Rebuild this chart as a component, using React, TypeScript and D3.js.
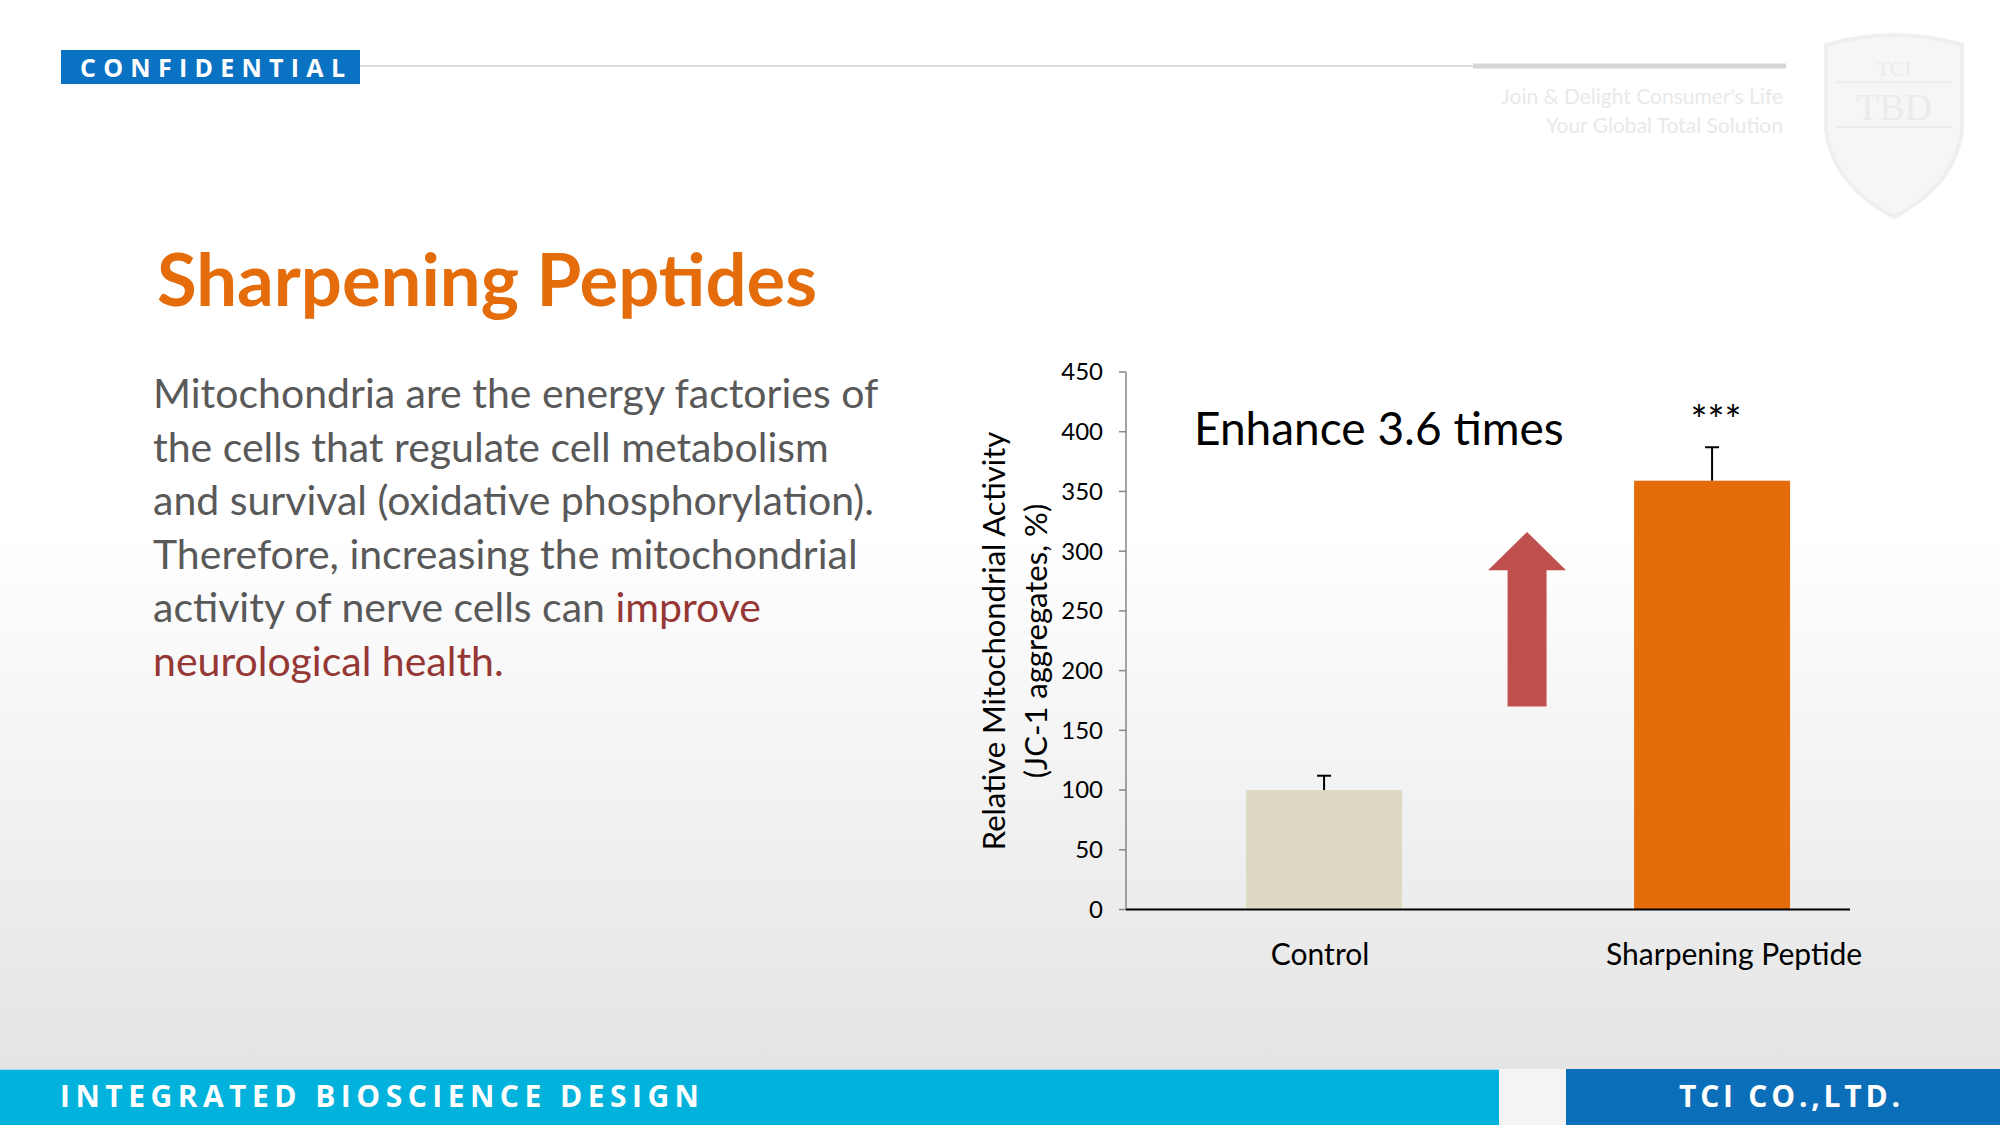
import React from 'react';
import * as d3 from 'd3';

// ---- Data ----
const categories = ['Control', 'Sharpening Peptide'];
const values = [100, 359];
const errors = [12, 28];
const barColors = ['#ddd9c3', '#e46c0a'];
const significance = ['', '***'];
const yTicks = [0, 50, 100, 150, 200, 250, 300, 350, 400, 450];
const yLabelLines = ['Relative Mitochondrial Activity', '(JC-1 aggregates, %)'];
const annotation = 'Enhance 3.6 times';
const arrowRange = [170, 316];
const arrowHeadBase = 284;

const title = 'Sharpening Peptides';
const bodyLines: { text: string; red?: boolean }[][] = [
  [{ text: 'Mitochondria are the energy factories of' }],
  [{ text: 'the cells that regulate cell metabolism' }],
  [{ text: 'and survival (oxidative phosphorylation).' }],
  [{ text: 'Therefore, increasing the mitochondrial' }],
  [{ text: 'activity of nerve cells can ' }, { text: 'improve', red: true }],
  [{ text: 'neurological health.', red: true }],
];
const taglines = ["Join & Delight Consumer's Life", 'Your Global Total Solution'];

const W = 2000;
const H = 1125;

export default function App() {
  const plotLeft = 1126;
  const plotRight = 1850;
  const plotTop = 372;
  const plotBottom = 909.5;

  const y = d3.scaleLinear().domain([0, 450]).range([plotBottom, plotTop]);
  const x = d3
    .scaleBand<string>()
    .domain(categories)
    .range([plotLeft, plotRight])
    .paddingInner(0.598)
    .paddingOuter(0.232)
    .align(0.667);
  const bw = x.bandwidth();
  const centers = categories.map((c) => (x(c) as number) + bw / 2);

  const arrowCx = (centers[0] + centers[1]) / 2 + 9;
  const headHalf = 39;
  const shaftHalf = 19.5;
  const arrowPath = d3.path();
  arrowPath.moveTo(arrowCx, y(arrowRange[1]));
  arrowPath.lineTo(arrowCx + headHalf, y(arrowHeadBase));
  arrowPath.lineTo(arrowCx + shaftHalf, y(arrowHeadBase));
  arrowPath.lineTo(arrowCx + shaftHalf, y(arrowRange[0]));
  arrowPath.lineTo(arrowCx - shaftHalf, y(arrowRange[0]));
  arrowPath.lineTo(arrowCx - shaftHalf, y(arrowHeadBase));
  arrowPath.lineTo(arrowCx - headHalf, y(arrowHeadBase));
  arrowPath.closePath();

  const bodyFont = 'Lato, "Open Sans", sans-serif';

  return (
    <svg
      width={W}
      height={H}
      viewBox={`0 0 ${W} ${H}`}
      style={{ position: 'absolute', left: 0, top: 0 }}
    >
      <defs>
        <linearGradient id="bg" x1="0" y1="0" x2="0" y2="1069" gradientUnits="userSpaceOnUse">
          <stop offset="0" stopColor="#ffffff" />
          <stop offset="0.5" stopColor="#ffffff" />
          <stop offset="1" stopColor="#e4e4e4" />
        </linearGradient>
      </defs>
      <rect x={0} y={0} width={W} height={H} fill="url(#bg)" />

      {/* header */}
      <line x1={360} x2={1786} y1={66} y2={66} stroke="#dcdcdc" strokeWidth={2} />
      <line x1={1473} x2={1786} y1={66} y2={66} stroke="#d6d6d6" strokeWidth={5} />
      <rect x={61} y={50} width={299} height={34} fill="#0a72c2" />
      <text
        x={80}
        y={76.5}
        fill="#ffffff"
        fontFamily='"Open Sans", sans-serif'
        fontWeight={700}
        fontSize={25}
        textLength={265}
        lengthAdjust="spacing"
      >
        CONFIDENTIAL
      </text>
      {taglines.map((t, i) => (
        <text
          key={t}
          x={1783}
          y={104 + i * 29}
          textAnchor="end"
          fill="#e9e9e9"
          fontFamily={bodyFont}
          fontSize={21}
        >
          {t}
        </text>
      ))}
      {/* faint shield logo */}
      <g opacity={0.9}>
        <path
          d="M1826,45 Q1895,25 1962,45 L1962,130 Q1955,185 1894,217 Q1833,185 1826,130 Z"
          fill="#f6f6f6"
          stroke="#eeeeee"
          strokeWidth={4}
        />
        <line x1={1836} x2={1952} y1={82} y2={82} stroke="#ececec" strokeWidth={2} />
        <line x1={1836} x2={1952} y1={127} y2={127} stroke="#ececec" strokeWidth={2} />
        <text x={1894} y={76} textAnchor="middle" fill="#e9e9e9" fontFamily="serif" fontSize={22}>
          TCI
        </text>
        <text x={1894} y={120} textAnchor="middle" fill="#e9e9e9" fontFamily="serif" fontSize={38}>
          TBD
        </text>
      </g>

      {/* title & body */}
      <text x={157} y={306} fill="#e46c0a" fontFamily={bodyFont} fontWeight={700} fontSize={73} textLength={660} lengthAdjust="spacingAndGlyphs">
        {title}
      </text>
      {bodyLines.map((segs, i) => (
        <text key={i} x={153} y={408 + i * 53.6} fontFamily={bodyFont} fontSize={41} fill="#595959">
          {segs.map((s, j) => (
            <tspan key={j} fill={s.red ? '#953735' : '#595959'}>
              {s.text}
            </tspan>
          ))}
        </text>
      ))}

      {/* chart */}
      <g fontFamily={bodyFont}>
        {categories.map((c, i) => (
          <rect key={c} x={x(c)} y={y(values[i])} width={bw} height={y(0) - y(values[i])} fill={barColors[i]} />
        ))}
        {categories.map((c, i) => (
          <g key={c + 'err'} stroke="#000" strokeWidth={2}>
            <line x1={centers[i]} x2={centers[i]} y1={y(values[i])} y2={y(values[i] + errors[i])} />
            <line x1={centers[i] - 7} x2={centers[i] + 7} y1={y(values[i] + errors[i])} y2={y(values[i] + errors[i])} />
          </g>
        ))}
        {categories.map((c, i) =>
          significance[i] ? (
            <text key={c + 'sig'} x={centers[i] + 4} y={y(values[i] + errors[i]) - 12} textAnchor="middle" fontSize={40} fill="#000">
              {significance[i]}
            </text>
          ) : null
        )}
        {/* y axis */}
        <line x1={plotLeft} x2={plotLeft} y1={plotTop} y2={plotBottom} stroke="#868686" strokeWidth={1.5} />
        {yTicks.map((t) => (
          <g key={t}>
            <line x1={plotLeft - 7} x2={plotLeft} y1={y(t)} y2={y(t)} stroke="#868686" strokeWidth={1.5} />
            <text x={1103} y={y(t)} dy="0.35em" textAnchor="end" fontSize={24} fill="#000">
              {t}
            </text>
          </g>
        ))}
        {/* x axis */}
        <line x1={plotLeft} x2={plotRight} y1={plotBottom} y2={plotBottom} stroke="#000" strokeWidth={2} />
        {categories.map((c, i) => (
          <text key={c + 'lbl'} x={centers[i] + (i === 1 ? 22 : -4)} y={965} textAnchor="middle" fontSize={30} fill="#000">
            {c}
          </text>
        ))}
        {yLabelLines.map((l, i) => (
          <text
            key={l}
            transform={`translate(${994 + i * 42},641) rotate(-90)`}
            dy="0.35em"
            textAnchor="middle"
            fontSize={31}
            fill="#000"
          >
            {l}
          </text>
        ))}
        <path d={arrowPath.toString()} fill="#c0504d" />
        <text x={1194} y={445} fontSize={46} fill="#000">
          {annotation}
        </text>
      </g>

      {/* footer */}
      <rect x={0} y={1069} width={1499} height={56} fill="#00b2dc" />
      <rect x={1499} y={1069} width={67} height={56} fill="#f4f4f4" />
      <rect x={1566} y={1069} width={434} height={56} fill="#0a6eb8" />
      <line x1={0} x2={1499} y1={1069.5} y2={1069.5} stroke="#9fe0f0" strokeWidth={1} />
      <text
        x={60}
        y={1107}
        fill="#ffffff"
        fontFamily='"Open Sans", sans-serif'
        fontWeight={700}
        fontSize={30}
        textLength={639}
        lengthAdjust="spacing"
      >
        INTEGRATED BIOSCIENCE DESIGN
      </text>
      <text
        x={1679}
        y={1107}
        fill="#ffffff"
        fontFamily='"Open Sans", sans-serif'
        fontWeight={700}
        fontSize={30}
        textLength={221}
        lengthAdjust="spacing"
      >
        TCI CO.,LTD.
      </text>
    </svg>
  );
}
